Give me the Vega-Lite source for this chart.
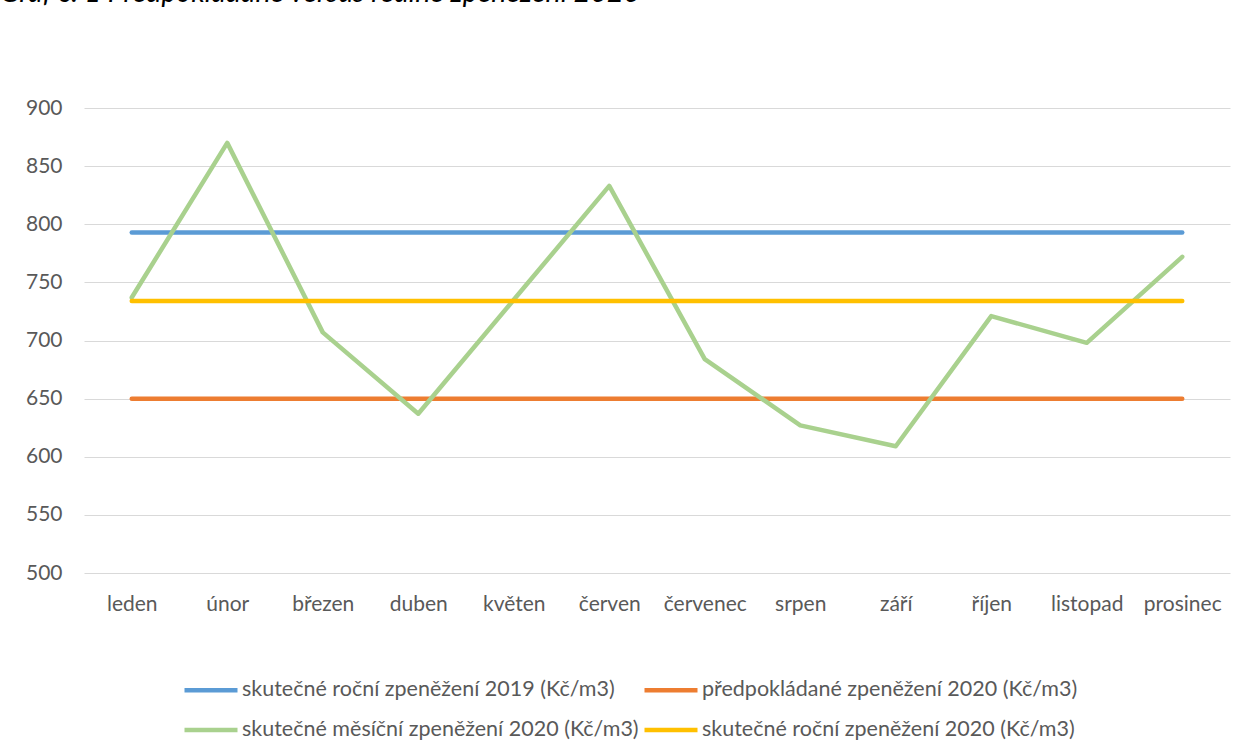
{
  "$schema": "https://vega.github.io/schema/vega-lite/v6.json",
  "autosize": "none",
  "width": 1146,
  "height": 465,
  "padding": {"left": 84, "top": 108, "right": 30, "bottom": 183},
  "background": "white",
  "title": {
    "text": "Graf č. 1 Předpokládané versus reálné zpeněžení 2020",
    "anchor": "start",
    "frame": "group",
    "dx": -84,
    "offset": 67,
    "baseline": "alphabetic",
    "font": "Lato",
    "fontStyle": "italic",
    "fontWeight": "normal",
    "fontSize": 28.5,
    "color": "#000000"
  },
  "data": {
    "values": [
      {"mesic": "leden", "rada": "skutečné roční zpeněžení 2019 (Kč/m3)", "hodnota": 793},
      {"mesic": "únor", "rada": "skutečné roční zpeněžení 2019 (Kč/m3)", "hodnota": 793},
      {"mesic": "březen", "rada": "skutečné roční zpeněžení 2019 (Kč/m3)", "hodnota": 793},
      {"mesic": "duben", "rada": "skutečné roční zpeněžení 2019 (Kč/m3)", "hodnota": 793},
      {"mesic": "květen", "rada": "skutečné roční zpeněžení 2019 (Kč/m3)", "hodnota": 793},
      {"mesic": "červen", "rada": "skutečné roční zpeněžení 2019 (Kč/m3)", "hodnota": 793},
      {"mesic": "červenec", "rada": "skutečné roční zpeněžení 2019 (Kč/m3)", "hodnota": 793},
      {"mesic": "srpen", "rada": "skutečné roční zpeněžení 2019 (Kč/m3)", "hodnota": 793},
      {"mesic": "září", "rada": "skutečné roční zpeněžení 2019 (Kč/m3)", "hodnota": 793},
      {"mesic": "říjen", "rada": "skutečné roční zpeněžení 2019 (Kč/m3)", "hodnota": 793},
      {"mesic": "listopad", "rada": "skutečné roční zpeněžení 2019 (Kč/m3)", "hodnota": 793},
      {"mesic": "prosinec", "rada": "skutečné roční zpeněžení 2019 (Kč/m3)", "hodnota": 793},
      {"mesic": "leden", "rada": "předpokládané zpeněžení 2020 (Kč/m3)", "hodnota": 650},
      {"mesic": "únor", "rada": "předpokládané zpeněžení 2020 (Kč/m3)", "hodnota": 650},
      {"mesic": "březen", "rada": "předpokládané zpeněžení 2020 (Kč/m3)", "hodnota": 650},
      {"mesic": "duben", "rada": "předpokládané zpeněžení 2020 (Kč/m3)", "hodnota": 650},
      {"mesic": "květen", "rada": "předpokládané zpeněžení 2020 (Kč/m3)", "hodnota": 650},
      {"mesic": "červen", "rada": "předpokládané zpeněžení 2020 (Kč/m3)", "hodnota": 650},
      {"mesic": "červenec", "rada": "předpokládané zpeněžení 2020 (Kč/m3)", "hodnota": 650},
      {"mesic": "srpen", "rada": "předpokládané zpeněžení 2020 (Kč/m3)", "hodnota": 650},
      {"mesic": "září", "rada": "předpokládané zpeněžení 2020 (Kč/m3)", "hodnota": 650},
      {"mesic": "říjen", "rada": "předpokládané zpeněžení 2020 (Kč/m3)", "hodnota": 650},
      {"mesic": "listopad", "rada": "předpokládané zpeněžení 2020 (Kč/m3)", "hodnota": 650},
      {"mesic": "prosinec", "rada": "předpokládané zpeněžení 2020 (Kč/m3)", "hodnota": 650},
      {"mesic": "leden", "rada": "skutečné měsíční zpeněžení 2020 (Kč/m3)", "hodnota": 737},
      {"mesic": "únor", "rada": "skutečné měsíční zpeněžení 2020 (Kč/m3)", "hodnota": 870},
      {"mesic": "březen", "rada": "skutečné měsíční zpeněžení 2020 (Kč/m3)", "hodnota": 707},
      {"mesic": "duben", "rada": "skutečné měsíční zpeněžení 2020 (Kč/m3)", "hodnota": 637},
      {"mesic": "květen", "rada": "skutečné měsíční zpeněžení 2020 (Kč/m3)", "hodnota": 735},
      {"mesic": "červen", "rada": "skutečné měsíční zpeněžení 2020 (Kč/m3)", "hodnota": 833},
      {"mesic": "červenec", "rada": "skutečné měsíční zpeněžení 2020 (Kč/m3)", "hodnota": 684},
      {"mesic": "srpen", "rada": "skutečné měsíční zpeněžení 2020 (Kč/m3)", "hodnota": 627},
      {"mesic": "září", "rada": "skutečné měsíční zpeněžení 2020 (Kč/m3)", "hodnota": 609},
      {"mesic": "říjen", "rada": "skutečné měsíční zpeněžení 2020 (Kč/m3)", "hodnota": 721},
      {"mesic": "listopad", "rada": "skutečné měsíční zpeněžení 2020 (Kč/m3)", "hodnota": 698},
      {"mesic": "prosinec", "rada": "skutečné měsíční zpeněžení 2020 (Kč/m3)", "hodnota": 772},
      {"mesic": "leden", "rada": "skutečné roční zpeněžení 2020 (Kč/m3)", "hodnota": 734},
      {"mesic": "únor", "rada": "skutečné roční zpeněžení 2020 (Kč/m3)", "hodnota": 734},
      {"mesic": "březen", "rada": "skutečné roční zpeněžení 2020 (Kč/m3)", "hodnota": 734},
      {"mesic": "duben", "rada": "skutečné roční zpeněžení 2020 (Kč/m3)", "hodnota": 734},
      {"mesic": "květen", "rada": "skutečné roční zpeněžení 2020 (Kč/m3)", "hodnota": 734},
      {"mesic": "červen", "rada": "skutečné roční zpeněžení 2020 (Kč/m3)", "hodnota": 734},
      {"mesic": "červenec", "rada": "skutečné roční zpeněžení 2020 (Kč/m3)", "hodnota": 734},
      {"mesic": "srpen", "rada": "skutečné roční zpeněžení 2020 (Kč/m3)", "hodnota": 734},
      {"mesic": "září", "rada": "skutečné roční zpeněžení 2020 (Kč/m3)", "hodnota": 734},
      {"mesic": "říjen", "rada": "skutečné roční zpeněžení 2020 (Kč/m3)", "hodnota": 734},
      {"mesic": "listopad", "rada": "skutečné roční zpeněžení 2020 (Kč/m3)", "hodnota": 734},
      {"mesic": "prosinec", "rada": "skutečné roční zpeněžení 2020 (Kč/m3)", "hodnota": 734}
    ]
  },
  "mark": {"type": "line", "strokeWidth": 4.5, "strokeCap": "round", "strokeJoin": "round"},
  "encoding": {
    "x": {
      "field": "mesic",
      "type": "nominal",
      "sort": ["leden", "únor", "březen", "duben", "květen", "červen", "červenec", "srpen", "září", "říjen", "listopad", "prosinec"],
      "scale": {"type": "point", "padding": 0.5},
      "axis": {
        "title": null,
        "labelAngle": 0,
        "domain": false,
        "ticks": false,
        "grid": false,
        "labelPadding": 20,
        "labelFont": "Lato",
        "labelFontSize": 21,
        "labelColor": "#595959"
      }
    },
    "y": {
      "field": "hodnota",
      "type": "quantitative",
      "scale": {"domain": [500, 900], "nice": false, "zero": false},
      "axis": {
        "title": null,
        "values": [500, 550, 600, 650, 700, 750, 800, 850, 900],
        "grid": true,
        "gridColor": "#d9d9d9",
        "gridWidth": 1,
        "domain": false,
        "ticks": false,
        "labelPadding": 22,
        "labelFont": "Lato",
        "labelFontSize": 21,
        "labelColor": "#595959"
      }
    },
    "color": {
      "field": "rada",
      "type": "nominal",
      "sort": null,
      "scale": {
        "domain": ["skutečné roční zpeněžení 2019 (Kč/m3)", "skutečné měsíční zpeněžení 2020 (Kč/m3)", "předpokládané zpeněžení 2020 (Kč/m3)", "skutečné roční zpeněžení 2020 (Kč/m3)"],
        "range": ["#5B9BD5", "#A9D18E", "#ED7D31", "#FFC000"]
      },
      "legend": {
        "title": null,
        "orient": "none",
        "legendX": 98,
        "legendY": 553,
        "columns": 2,
        "padding": 0,
        "symbolType": "stroke",
        "symbolSize": 2809,
        "symbolStrokeWidth": 4.5,
        "labelFont": "Lato",
        "labelFontSize": 21.5,
        "labelColor": "#595959",
        "labelLimit": 0,
        "labelOffset": 2,
        "columnPadding": -4,
        "rowPadding": -13
      }
    }
  },
  "config": {"view": {"stroke": null}}
}
